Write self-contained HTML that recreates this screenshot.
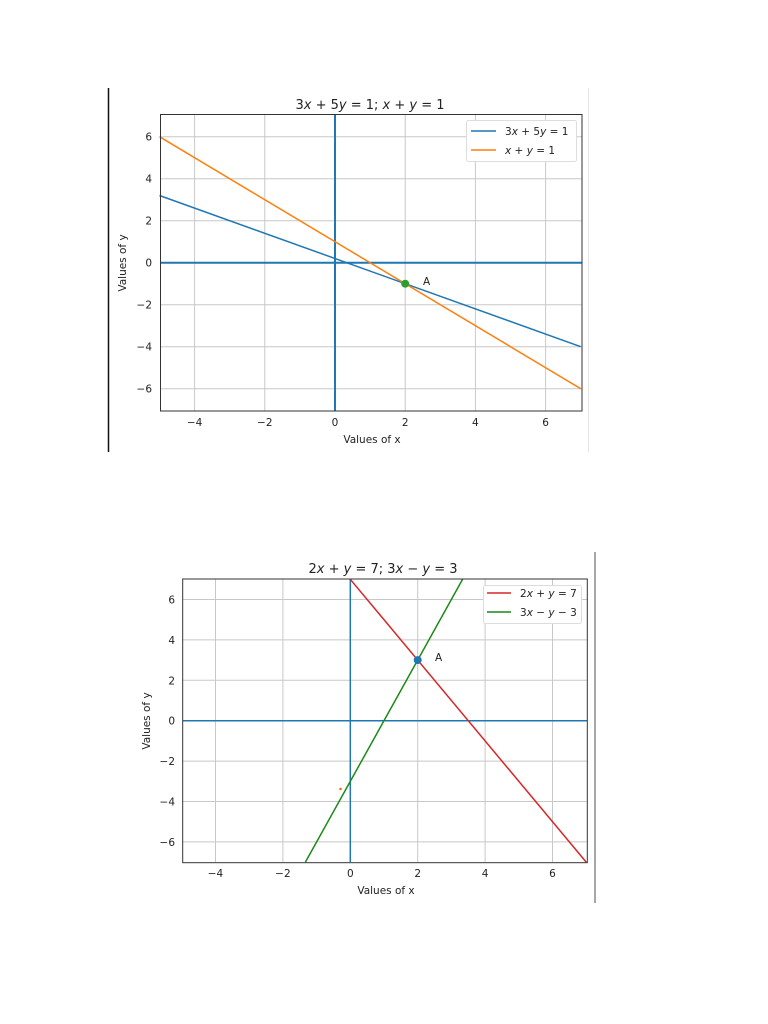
<!DOCTYPE html>
<html><head><meta charset="utf-8"><style>
body{margin:0;background:#fff}
svg{display:block}
text{font-family:"DejaVu Sans","Liberation Sans",sans-serif;fill:#222}
.t{font-size:10.5px}
.g{stroke:#c8c8c8;stroke-width:1}
</style></head><body>
<svg width="768" height="1024" viewBox="0 0 768 1024">
<rect width="768" height="1024" fill="#fff"/>
<!-- Top chart -->
<line x1="108.5" y1="88" x2="108.5" y2="452" stroke="#111" stroke-width="1.5"/>
<line x1="588.5" y1="88" x2="588.5" y2="452" stroke="#e4e4e4" stroke-width="1"/>
<g class="g">
<line x1="194.6" y1="114" x2="194.6" y2="411"/><line x1="264.8" y1="114" x2="264.8" y2="411"/><line x1="405.2" y1="114" x2="405.2" y2="411"/><line x1="475.4" y1="114" x2="475.4" y2="411"/><line x1="545.6" y1="114" x2="545.6" y2="411"/>
<line x1="160" y1="136.7" x2="582" y2="136.7"/><line x1="160" y1="178.7" x2="582" y2="178.7"/><line x1="160" y1="220.7" x2="582" y2="220.7"/><line x1="160" y1="304.7" x2="582" y2="304.7"/><line x1="160" y1="346.7" x2="582" y2="346.7"/><line x1="160" y1="388.7" x2="582" y2="388.7"/>
</g>
<line x1="335" y1="114" x2="335" y2="411" stroke="#1f77b4" stroke-width="2"/>
<line x1="160" y1="262.7" x2="582" y2="262.7" stroke="#1f77b4" stroke-width="2"/>
<line x1="159.5" y1="195.5" x2="580.7" y2="346.7" stroke="#1f77b4" stroke-width="1.5"/>
<line x1="159.5" y1="136.7" x2="580.7" y2="388.7" stroke="#ff7f0e" stroke-width="1.5"/>
<circle cx="405.2" cy="283.7" r="4" fill="#2ca02c"/>
<text x="423" y="285" class="t">A</text>
<rect x="160.5" y="114.5" width="421.5" height="296.5" fill="none" stroke="#333" stroke-width="1"/>
<g class="t" text-anchor="middle">
<text x="194.6" y="426">−4</text><text x="264.8" y="426">−2</text><text x="335" y="426">0</text><text x="405.2" y="426">2</text><text x="475.4" y="426">4</text><text x="545.6" y="426">6</text>
</g>
<g class="t" text-anchor="end">
<text x="152" y="140.5">6</text><text x="152" y="182.5">4</text><text x="152" y="224.5">2</text><text x="152" y="266.5">0</text><text x="152" y="308.5">−2</text><text x="152" y="350.5">−4</text><text x="152" y="392.5">−6</text>
</g>
<text x="372" y="443" class="t" text-anchor="middle" font-size="11">Values of x</text>
<text transform="translate(126,263) rotate(-90)" class="t" text-anchor="middle" font-size="11">Values of y</text>
<text x="370" y="109" text-anchor="middle" font-size="13">3<tspan font-style="italic">x</tspan> + 5<tspan font-style="italic">y</tspan> = 1; <tspan font-style="italic">x</tspan> + <tspan font-style="italic">y</tspan> = 1</text>
<rect x="466.5" y="120.5" width="110" height="41" rx="2" fill="#fff" stroke="#ddd"/>
<line x1="471" y1="131" x2="496" y2="131" stroke="#1f77b4" stroke-width="1.5"/>
<line x1="471" y1="150" x2="496" y2="150" stroke="#ff7f0e" stroke-width="1.5"/>
<text x="505" y="135" class="t">3<tspan font-style="italic">x</tspan> + 5<tspan font-style="italic">y</tspan> = 1</text>
<text x="505" y="154" class="t"><tspan font-style="italic">x</tspan> + <tspan font-style="italic">y</tspan> = 1</text>

<!-- Bottom chart -->
<line x1="595" y1="552" x2="595" y2="903" stroke="#888" stroke-width="1.5"/>
<g class="g">
<line x1="215.5" y1="579" x2="215.5" y2="862"/><line x1="282.9" y1="579" x2="282.9" y2="862"/><line x1="417.7" y1="579" x2="417.7" y2="862"/><line x1="485.1" y1="579" x2="485.1" y2="862"/><line x1="552.5" y1="579" x2="552.5" y2="862"/>
<line x1="183" y1="599.5" x2="587" y2="599.5"/><line x1="183" y1="639.9" x2="587" y2="639.9"/><line x1="183" y1="680.3" x2="587" y2="680.3"/><line x1="183" y1="761.1" x2="587" y2="761.1"/><line x1="183" y1="801.5" x2="587" y2="801.5"/><line x1="183" y1="841.9" x2="587" y2="841.9"/>
</g>
<line x1="350.3" y1="579" x2="350.3" y2="862" stroke="#1f77b4" stroke-width="1.5"/>
<line x1="183" y1="720.7" x2="587" y2="720.7" stroke="#1f77b4" stroke-width="1.5"/>
<line x1="350.3" y1="579.3" x2="586.2" y2="862.1" stroke="#d62728" stroke-width="1.5"/>
<line x1="462.6" y1="579.3" x2="305.4" y2="862.1" stroke="#2ca02c" stroke-width="1.5" style="stroke:#1a8a1a"/>
<circle cx="417.7" cy="660.1" r="4" fill="#1f77b4"/>
<circle cx="340.5" cy="789" r="1.2" fill="#ff5a00"/>
<text x="435" y="661" class="t">A</text>
<rect x="182.7" y="579" width="404.6" height="283.7" fill="none" stroke="#333" stroke-width="1"/>
<g class="t" text-anchor="middle">
<text x="215.5" y="877">−4</text><text x="282.9" y="877">−2</text><text x="350.3" y="877">0</text><text x="417.7" y="877">2</text><text x="485.1" y="877">4</text><text x="552.5" y="877">6</text>
</g>
<g class="t" text-anchor="end">
<text x="175" y="603.5">6</text><text x="175" y="643.9">4</text><text x="175" y="684.3">2</text><text x="175" y="724.7">0</text><text x="175" y="765.1">−2</text><text x="175" y="805.5">−4</text><text x="175" y="845.9">−6</text>
</g>
<text x="386" y="894" class="t" text-anchor="middle" font-size="11">Values of x</text>
<text transform="translate(150,721) rotate(-90)" class="t" text-anchor="middle" font-size="11">Values of y</text>
<text x="383" y="573" text-anchor="middle" font-size="13">2<tspan font-style="italic">x</tspan> + <tspan font-style="italic">y</tspan> = 7; 3<tspan font-style="italic">x</tspan> − <tspan font-style="italic">y</tspan> = 3</text>
<rect x="483.5" y="585.5" width="98" height="38" rx="2" fill="#fff" stroke="#ddd"/>
<line x1="487" y1="593" x2="511" y2="593" stroke="#d62728" stroke-width="1.5"/>
<line x1="487" y1="612" x2="511" y2="612" stroke="#1a8a1a" stroke-width="1.5"/>
<text x="520" y="597" class="t">2<tspan font-style="italic">x</tspan> + <tspan font-style="italic">y</tspan> = 7</text>
<text x="520" y="616" class="t">3<tspan font-style="italic">x</tspan> − <tspan font-style="italic">y</tspan> − 3</text>
</svg>
</body></html>
